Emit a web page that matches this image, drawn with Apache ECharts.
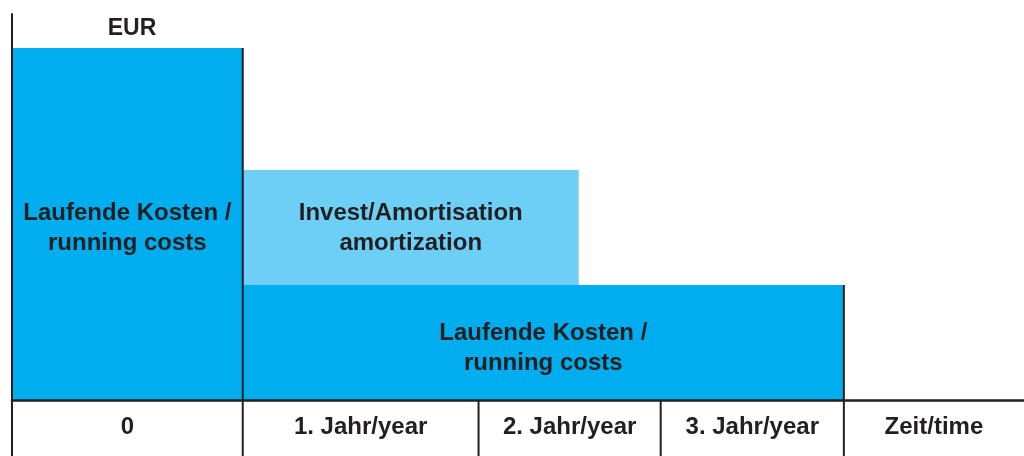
<!DOCTYPE html>
<html>
<head>
<meta charset="utf-8">
<script src="https://cdn.jsdelivr.net/npm/echarts@6/dist/echarts.min.js"></script>
<style>html,body{margin:0;padding:0;background:#fff}#c{width:1024px;height:456px}</style>
</head>
<body>
<div id="c"></div>
<script>
// Time axis columns (x in relative time units 0..100)
const categories = ['0', '1. Jahr/year', '2. Jahr/year', '3. Jahr/year', 'Zeit/time'];
const columnEdges = [0, 22.8, 46.1, 64.1, 82.2, 100];
// Cost blocks (y in relative EUR units 0..100)
const blockLabels = ['Laufende Kosten /\nrunning costs', 'Invest/Amortisation\namortization', 'Laufende Kosten /\nrunning costs'];
const blockStart = [0, 22.8, 22.8];
const blockEnd = [22.8, 56.0, 82.2];
const blockBase = [0, 29.8, 0];
const blockValue = [91.2, 29.8, 29.8];
const yAxisName = 'EUR';

const INK = '#231f20';
const FONT = 'bold 24px "Liberation Sans", Arial, sans-serif';
const blockColors = ['#00adef', '#6dcff6', '#00adef'];
const labelShift = [4, 1, 6];

const blockData = blockLabels.map((l, i) => [blockStart[i], blockEnd[i], blockBase[i], blockBase[i] + blockValue[i], i]);
const colData = categories.map((c, i) => [columnEdges[i], columnEdges[i + 1], i]);

const chart = echarts.init(document.getElementById('c'), null, {renderer: 'canvas'});
chart.setOption({
  animation: false,
  title: {text: yAxisName, left: 127, top: 12, textAlign: 'center',
    textStyle: {color: INK, fontSize: 23, fontWeight: 'bold', fontFamily: '"Liberation Sans", Arial, sans-serif'}},
  grid: {left: 12, right: 0, top: 14, bottom: 56},
  xAxis: {type: 'value', min: 0, max: 100, z: 10,
    axisLine: {show: true, lineStyle: {color: INK, width: 2.5}},
    axisTick: {show: false}, axisLabel: {show: false}, splitLine: {show: false}},
  yAxis: {type: 'value', min: 0, max: 100, z: 10,
    axisLine: {show: true, lineStyle: {color: INK, width: 2}},
    axisTick: {show: false}, axisLabel: {show: false}, splitLine: {show: false}},
  series: [
    {
      type: 'custom', z: 2, clip: false,
      data: blockData,
      renderItem: function (params, api) {
        const x0 = api.value(0), x1 = api.value(1), y0 = api.value(2), y1 = api.value(3), i = api.value(4);
        const p0 = api.coord([x0, y0]), p1 = api.coord([x1, y1]);
        const children = [{
          type: 'rect',
          shape: {x: p0[0], y: p1[1], width: p1[0] - p0[0], height: p0[1] - p1[1]},
          style: {fill: blockColors[i]}
        }];
        if (columnEdges.indexOf(x1) >= 0) {
          children.push({type: 'line', z2: 5,
            shape: {x1: p1[0], y1: p1[1], x2: p1[0], y2: p0[1]},
            style: {stroke: INK, lineWidth: 2}});
        }
        children.push({type: 'text', z2: 6,
          style: {text: blockLabels[i], x: (p0[0] + p1[0]) / 2, y: (p0[1] + p1[1]) / 2 + labelShift[i],
            align: 'center', verticalAlign: 'middle', textAlign: 'center', textVerticalAlign: 'middle',
            font: FONT, fill: INK, lineHeight: 30}});
        return {type: 'group', children: children};
      }
    },
    {
      type: 'custom', z: 12, clip: false,
      data: colData,
      renderItem: function (params, api) {
        const x0 = api.value(0), x1 = api.value(1), i = api.value(2);
        const p0 = api.coord([x0, 0]), p1 = api.coord([x1, 0]);
        const h = api.getHeight();
        const children = [{
          type: 'text',
          style: {text: categories[i], x: (p0[0] + p1[0]) / 2, y: p0[1] + 27,
            align: 'center', verticalAlign: 'middle', textAlign: 'center', textVerticalAlign: 'middle',
            font: FONT, fill: INK}
        }];
        if (i < categories.length - 1) {
          children.push({type: 'line',
            shape: {x1: p1[0], y1: p1[1], x2: p1[0], y2: h},
            style: {stroke: INK, lineWidth: 2}});
        }
        if (i === 0) {
          children.push({type: 'line',
            shape: {x1: p0[0], y1: p0[1], x2: p0[0], y2: h},
            style: {stroke: INK, lineWidth: 2}});
        }
        return {type: 'group', children: children};
      }
    }
  ]
});
</script>
</body>
</html>
